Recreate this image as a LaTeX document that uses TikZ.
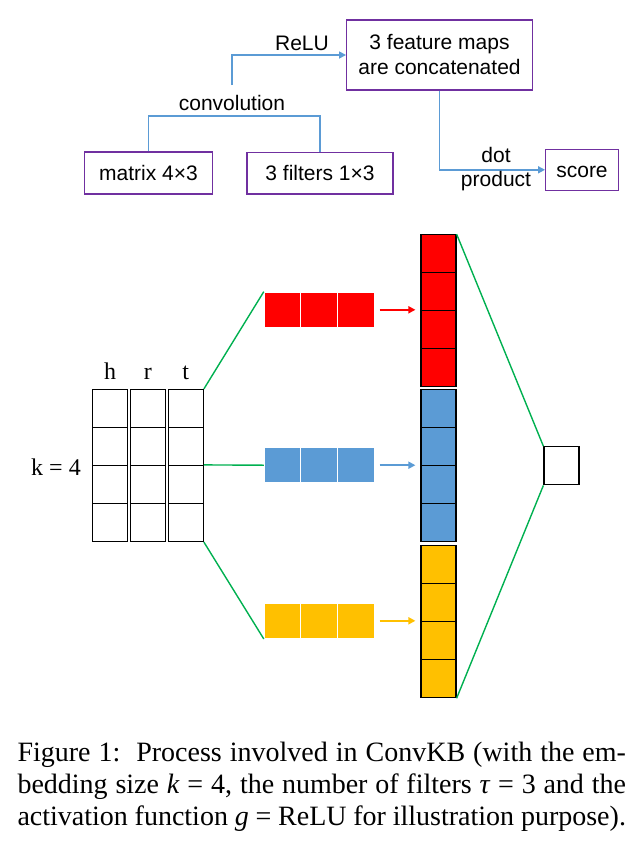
\documentclass[tikz,border=0pt]{standalone}
\usepackage{fontspec}
\setmainfont{Liberation Serif}
\newfontfamily\flowfont{Liberation Sans}
\usetikzlibrary{arrows.meta,positioning,calc}
\definecolor{boxpurple}{RGB}{112,48,160}
\definecolor{flowblue}{RGB}{91,155,213}
\definecolor{linkgreen}{RGB}{0,176,80}
\definecolor{mapred}{RGB}{255,0,0}
\definecolor{mapblue}{RGB}{91,155,213}
\definecolor{mapyellow}{RGB}{255,192,0}
\tikzset{
  flowbox/.style={draw=boxpurple, line width=1.3pt, inner sep=0pt, align=center,
    font=\flowfont\fontsize{21}{25}\selectfont},
  flowtext/.style={inner sep=0pt, align=center, font=\flowfont\fontsize{21}{24.3}\selectfont},
  flowline/.style={draw=flowblue, line width=1.6pt},
  flowarrow/.style={flowline, -{Triangle[length=7pt,width=7pt]}},
  cell/.style={draw=black, line width=1.2pt, minimum width=35pt, minimum height=38pt, inner sep=0pt},
  filtercell/.style={fill=#1, draw=white, line width=1pt, minimum width=36.6pt,
    minimum height=35.3pt, inner sep=0pt},
  maparrow/.style={draw=#1, line width=2pt, -{Triangle[length=7pt,width=7pt]},
    shorten <=5pt, shorten >=5pt},
  link/.style={draw=linkgreen, line width=1.4pt},
  embedlabel/.style={inner sep=0pt, font=\fontsize{24}{28}\selectfont},
}
\begin{document}
\begin{tikzpicture}[x=1pt, y=-1pt]
\useasboundingbox (0,0) rectangle (643,849);

% flow of operations
\node[flowbox, minimum width=128.4pt, minimum height=42pt] (matrix) at (148.5,173) {matrix 4×3};
\node[flowbox, minimum width=146pt, minimum height=41.3pt] (filters) at (320,173.3) {3 filters 1×3};
\node[flowbox, minimum width=185.6pt, minimum height=70pt] (concat) at (439.5,55) {3 feature maps\\are concatenated};
\node[flowbox, minimum width=72.6pt, minimum height=41pt, text height=15.2pt, text depth=0pt] (score) at (582,169.8) {score};

\coordinate (convsplit) at (234.5,116);
\coordinate (convout) at (232,85);
\draw[flowline] (matrix.north) |- (convsplit) -| (filters.north);
\node[flowtext] (convlabel) at (232,103) {convolution};
\draw[flowarrow] (convout) |- (concat.west);
\node[flowtext, anchor=base] (relulabel) at (302,50.7) {ReLU};
\draw[flowarrow] (concat.south) |- (score.west);
\node[flowtext] (dotlabel) at (496,169) {dot\\product};

% embedding matrix
\foreach \col/\x in {h/110.2, r/147.8, t/185.8} {
  \foreach \row in {1,...,4}
    \node[cell] (\col\row) at (\x,370.5+38*\row) {};
  \node[embedlabel, anchor=base] (lab\col) at (\x,379) {\col};
}
\node[embedlabel] (ksize) at (56,466.7) {k = 4};

% filters, feature maps and score
\foreach \map/\y/\top in {red/309.8/234.7, blue/465.2/389.7, yellow/620.8/545.7} {
  \foreach \i in {1,2,3}
    \node[filtercell=map\map] (\map f\i) at (246+36.6*\i,\y) {};
  \foreach \j in {1,...,4}
    \node[cell, fill=map\map] (\map c\j) at (438.5,\top-19+38*\j) {};
  \draw[maparrow=map\map] (\map f3.east) -- (\map f3.east -| \map c1.west);
}
\node[cell] (out) at (561.5,465.8) {};

\draw[link] (t1.north east) -- (redf1.north west);
\draw[link] (t3.north east) -- (bluef1.west);
\draw[link] (t4.south east) -- (yellowf1.south west);
\draw[link] (redc1.north east) -- (out.north west);
\draw[link] (yellowc4.south east) -- (out.south west);

% caption
\node[anchor=north west, inner sep=0pt, text width=608.5pt, align=justify,
  font=\fontsize{28}{32.3}\selectfont] (caption) at (17.3,741.5)
  {\parfillskip=0pt Figure 1:\ \ Process involved in ConvKB (with the em-\linebreak
  bedding size \textit{k} = 4, the number of filters \textit{τ} = 3 and the\linebreak
  activation function \textit{g} = ReLU for illustration purpose).};
\end{tikzpicture}
\end{document}
